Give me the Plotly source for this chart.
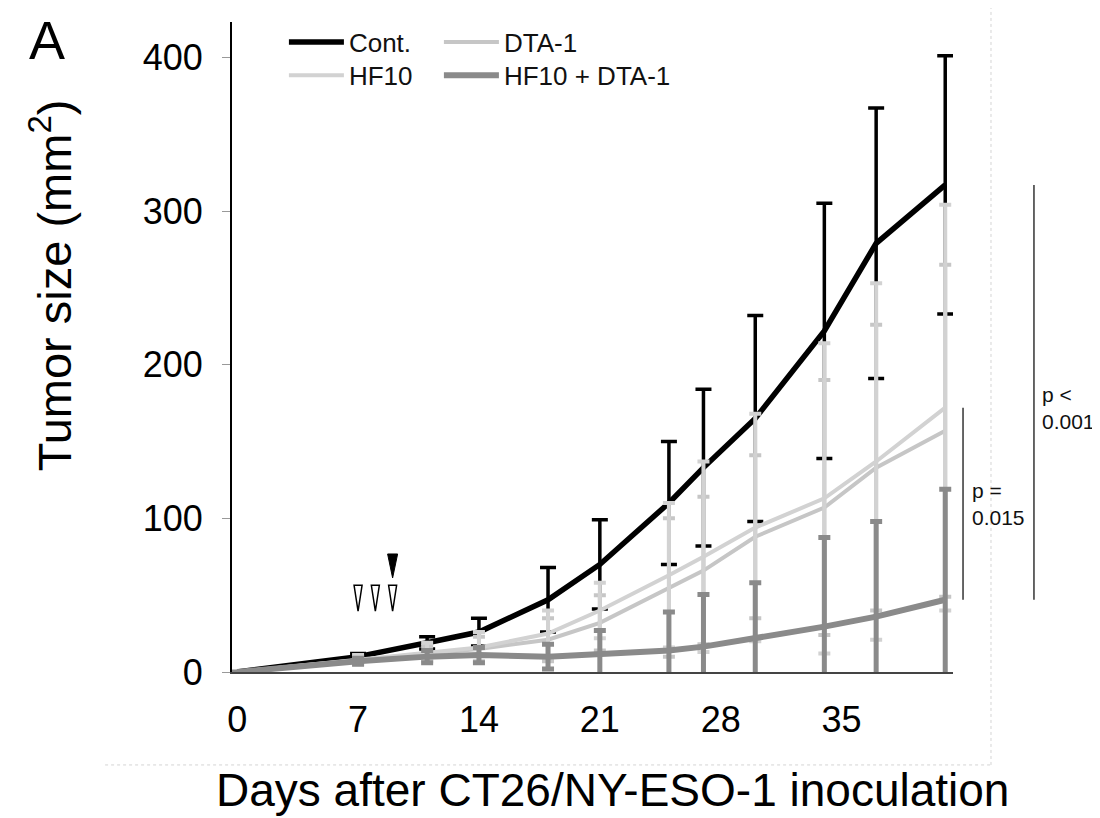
import plotly.graph_objects as go

# ---------------- data ----------------
days = [0, 7, 11, 14, 18, 21, 25, 27, 30, 34, 37, 41]

cont = [0, 10, 19, 26, 47, 70, 110, 133, 165, 222, 279, 317]
cont_sd = [0, 2, 4, 9, 21, 29, 40, 51, 67, 83, 88, 84]

hf10 = [0, 8, 13, 16, 25, 40, 63, 75, 94, 113, 137, 172]
hf10_sd = [0, 3, 6, 10, 15, 18, 47, 62, 74, 101, 116, 132]

dta1 = [0, 8, 12, 15, 21, 32, 55, 66, 88, 107, 133, 157]
dta1_sd = [0, 2, 5, 8, 14, 18, 45, 48, 53, 83, 93, 108]

combo = [0, 7, 10, 11, 10, 12, 14, 16.5, 22, 29.5, 36, 47]
combo_sd = [0, 2, 4, 5, 8, 15, 25, 34, 36, 58, 62, 72]

hf10_days = [7, 8, 9]      # open arrowheads
dta1_days = [9]            # filled arrowhead
open_level = 48
filled_level = 69

x_ticks = [0, 7, 14, 21, 28, 35]
y_ticks = [0, 100, 200, 300, 400]

FONT = "Liberation Sans, Arial, Helvetica, sans-serif"

fig = go.Figure()

def add_series(name, y, sd, color, width, ethick, ewidth, legend, lw=None):
    fig.add_trace(go.Scatter(
        x=days, y=y, name=name, mode="lines",
        line=dict(color=color, width=width),
        error_y=dict(type="data", array=sd, visible=True, color=color,
                     thickness=ethick, width=ewidth),
        legend=legend, legendwidth=lw,
    ))

add_series("Cont.", cont, cont_sd, "#000000", 5.5, 3.5, 8, "legend")
add_series("DTA-1", dta1, dta1_sd, "#c6c6c6", 4, 4, 6, "legend", 120)
add_series("HF10", hf10, hf10_sd, "#d2d2d2", 4, 4, 6, "legend2")
add_series("HF10 + DTA-1", combo, combo_sd, "#8a8a8a", 6, 5, 6, "legend2", 180)

shapes = []
# treatment arrowheads (pixel-sized paths anchored at data positions)
for d in hf10_days:
    shapes.append(dict(type="path", xref="x", yref="y", xsizemode="pixel", ysizemode="pixel",
                       xanchor=d, yanchor=open_level, path="M-4,13 L4,13 L0,-13 Z",
                       line=dict(color="black", width=1.5), fillcolor="white"))
for d in dta1_days:
    shapes.append(dict(type="path", xref="x", yref="y", xsizemode="pixel", ysizemode="pixel",
                       xanchor=d, yanchor=filled_level, path="M-5,12 L5,12 L0,-12 Z",
                       line=dict(color="black", width=1), fillcolor="black"))

# significance brackets (span between final group means)
shapes.append(dict(type="line", xref="paper", yref="y", x0=1.0139, x1=1.0139,
                   y0=combo[-1], y1=hf10[-1], line=dict(color="black", width=1.2)))
shapes.append(dict(type="line", xref="paper", yref="y", x0=1.1123, x1=1.1123,
                   y0=combo[-1], y1=cont[-1], line=dict(color="black", width=1.2)))

# faint outer frame
shapes.append(dict(type="line", xref="paper", yref="paper", x0=-0.176, x1=1.0527,
                   y0=-0.143, y1=-0.143, line=dict(color="#d4d4d4", width=1, dash="dot")))
shapes.append(dict(type="line", xref="paper", yref="paper", x0=1.0527, x1=1.0527,
                   y0=-0.143, y1=1.04, line=dict(color="#d4d4d4", width=1, dash="dot")))

annotations = [
    dict(text="p =<br>0.015", xref="paper", yref="y", x=1.0236, y=(combo[-1] + hf10[-1]) / 2,
         xanchor="left", yanchor="middle", align="left", showarrow=False,
         font=dict(family=FONT, size=21, color="#111")),
    dict(text="p <<br>0.001", xref="paper", yref="y", x=1.1207, y=(combo[-1] + cont[-1]) / 2 - 10,
         xanchor="left", yanchor="middle", align="left", showarrow=False,
         font=dict(family=FONT, size=21, color="#111")),
    dict(text="A", xref="paper", yref="paper", x=-0.2566, y=0.972, xanchor="center",
         yanchor="middle", showarrow=False, font=dict(family=FONT, size=54, color="black")),
    dict(text="Tumor size (mm<sup>2</sup>)", xref="paper", yref="paper", x=-0.251, y=0.595,
         xanchor="center", yanchor="middle", textangle=-90, showarrow=False,
         font=dict(family=FONT, size=47, color="black")),
    dict(text="Days after CT26/NY-ESO-1 inoculation", xref="paper", yref="paper",
         x=0.5284, y=-0.1815, xanchor="center", yanchor="middle", showarrow=False,
         font=dict(family=FONT, size=46, color="black")),
]

fig.update_layout(
    width=1092, height=810,
    margin=dict(l=224, r=147, t=14, b=146, autoexpand=False),
    paper_bgcolor="white", plot_bgcolor="white",
    font=dict(family=FONT, color="black"),
    shapes=shapes, annotations=annotations,
    legend=dict(orientation="h", x=0.072, y=0.969, xanchor="left", yanchor="middle",
                font=dict(family=FONT, size=26, color="#111"), bgcolor="rgba(0,0,0,0)",
                entrywidth=85, itemwidth=55),
    legend2=dict(orientation="h", x=0.072, y=0.918, xanchor="left", yanchor="middle",
                 font=dict(family=FONT, size=26, color="#111"), bgcolor="rgba(0,0,0,0)",
                 entrywidth=85, itemwidth=55),
    xaxis=dict(range=[-0.3, 41.45], tickvals=x_ticks, ticks="", showgrid=False, zeroline=False,
               showline=True, linecolor="#444", linewidth=1.5,
               tickfont=dict(family=FONT, size=36, color="black"), ticklabelstandoff=15),
    yaxis=dict(range=[0, 423], tickvals=y_ticks, ticks="outside", ticklen=8, tickcolor="#999",
               tickwidth=1, showgrid=False, zeroline=False, showline=True, linecolor="black",
               linewidth=2, tickfont=dict(family=FONT, size=36, color="black"),
               ticklabelstandoff=12),
)

fig.write_html("out.html")
